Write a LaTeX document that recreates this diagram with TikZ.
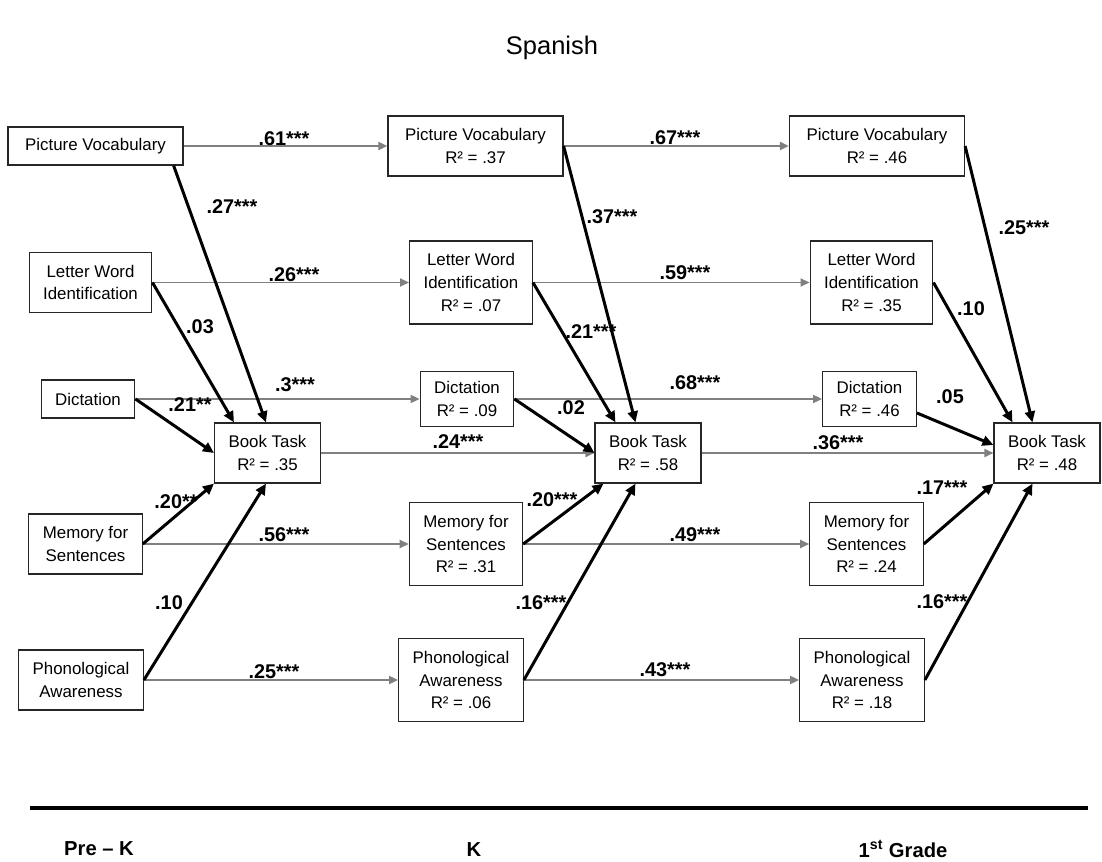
\documentclass[tikz,border=0pt]{standalone}
\usepackage{fontspec}
\setmainfont{Liberation Sans}
\usetikzlibrary{arrows.meta}

\begin{document}
\begin{tikzpicture}[x=2cm,y=2cm,
  var/.style={draw=black!85, line width=0.7pt, align=center, inner xsep=2.8mm, inner ysep=0pt, font=\fontsize{9.6}{13}\selectfont},
  onebox/.style={var, minimum height=7.6mm},
  twobox/.style={var, minimum height=12mm},
  threebox/.style={var, minimum height=16.6mm},
  coef/.style={font=\fontsize{11.3}{13}\selectfont\bfseries, inner sep=0pt},
  grade/.style={font=\fontsize{11.5}{13}\selectfont\bfseries, inner sep=0pt},
  stab/.style={draw=gray, line width=1.1pt, -{Triangle[length=1.8mm,width=1.6mm]}},
  effect/.style={draw=black, line width=1.7pt, -{Triangle[length=2.2mm,width=2mm]}}]
\useasboundingbox (0,0) rectangle (11.02,8.61);

\node[font=\fontsize{14.5}{17}\selectfont] (title) at (5.52,8.13) {Spanish};

% Pre-K
\node[onebox, minimum width=35mm] (pvA) at (0.955,7.15) {Picture Vocabulary};
\node[twobox] (lwiA) at (0.905,5.785) {Letter Word\\Identification};
\node[onebox] (dicA) at (0.88,4.62) {Dictation};
\node[twobox] (btA) at (2.675,4.08) {Book Task\\R² = .35};
\node[twobox] (mfsA) at (0.855,3.17) {Memory for\\Sentences};
\node[twobox] (paA) at (0.81,1.81) {Phonological\\Awareness};

% K
\node[twobox, minimum width=35mm] (pvB) at (4.755,7.15) {Picture Vocabulary\\R² = .37};
\node[threebox] (lwiB) at (4.71,5.785) {Letter Word\\Identification\\R² = .07};
\node[twobox, minimum height=11mm] (dicB) at (4.67,4.62) {Dictation\\R² = .09};
\node[twobox] (btB) at (6.48,4.08) {Book Task\\R² = .58};
\node[threebox] (mfsB) at (4.66,3.17) {Memory for\\Sentences\\R² = .31};
\node[threebox] (paB) at (4.61,1.81) {Phonological\\Awareness\\R² = .06};

% 1st grade
\node[twobox, minimum width=35mm] (pvC) at (8.77,7.15) {Picture Vocabulary\\R² = .46};
\node[threebox] (lwiC) at (8.715,5.785) {Letter Word\\Identification\\R² = .35};
\node[twobox, minimum height=11mm] (dicC) at (8.695,4.62) {Dictation\\R² = .46};
\node[twobox] (btC) at (10.47,4.08) {Book Task\\R² = .48};
\node[threebox] (mfsC) at (8.665,3.17) {Memory for\\Sentences\\R² = .24};
\node[threebox] (paC) at (8.62,1.81) {Phonological\\Awareness\\R² = .18};

% stability paths
\draw[stab] (pvA.east) -- (pvB.west);
\draw[stab] (lwiA.east) -- (lwiB.west);
\draw[stab] (dicA.east) -- (dicB.west);
\draw[stab] (btA.east) -- (btB.west);
\draw[stab] (mfsA.east) -- (mfsB.west);
\draw[stab] (paA.east) -- (paB.west);
\draw[stab] (pvB.east) -- (pvC.west);
\draw[stab] (lwiB.east) -- (lwiC.west);
\draw[stab] (dicB.east) -- (dicC.west);
\draw[stab] (btB.east) -- (btC.west);
\draw[stab] (mfsB.east) -- (mfsC.west);
\draw[stab] (paB.east) -- (paC.west);

% paths to book task
\draw[effect] ([xshift=-2mm]pvA.south east) -- ([xshift=10.4mm]btA.north west);
\draw[effect] (lwiA.east) -- ([xshift=4mm]btA.north west);
\draw[effect] (dicA.east) -- (btA.west);
\draw[effect] (mfsA.east) -- (btA.south west);
\draw[effect] (paA.east) -- ([xshift=10.4mm]btA.south west);

\draw[effect] (pvB.east) -- ([xshift=8.2mm]btB.north west);
\draw[effect] (lwiB.east) -- ([xshift=4.2mm]btB.north west);
\draw[effect] (dicB.east) -- (btB.west);
\draw[effect] (mfsB.east) -- ([xshift=1.8mm]btB.south west);
\draw[effect] (paB.east) -- ([xshift=8.2mm]btB.south west);

\draw[effect] (pvC.east) -- ([xshift=7.8mm]btC.north west);
\draw[effect] (lwiC.east) -- ([xshift=3.8mm]btC.north west);
\draw[effect] ([yshift=-2.8mm]dicC.east) -- ([yshift=1.6mm]btC.west);
\draw[effect] (mfsC.east) -- (btC.south west);
\draw[effect] (paC.east) -- ([xshift=7.8mm]btC.south west);

% coefficients
\node[coef] (c1) at (2.84,7.22) {.61***};
\node[coef] (c2) at (2.32,6.54) {.27***};
\node[coef] (c3) at (2.94,5.86) {.26***};
\node[coef] (c4) at (2.00,5.34) {.03};
\node[coef] (c5) at (2.95,4.76) {.3***};
\node[coef] (c6) at (1.90,4.56) {.21**};
\node[coef] (c7) at (4.58,4.19) {.24***};
\node[coef] (c8) at (1.76,3.59) {.20**};
\node[coef] (c9) at (2.84,3.26) {.56***};
\node[coef] (c10) at (1.69,2.58) {.10};
\node[coef] (c11) at (2.74,1.89) {.25***};

\node[coef] (c12) at (6.75,7.23) {.67***};
\node[coef] (c13) at (6.12,6.44) {.37***};
\node[coef] (c14) at (6.85,5.88) {.59***};
\node[coef] (c15) at (5.91,5.29) {.21***};
\node[coef] (c16) at (6.95,4.78) {.68***};
\node[coef] (c17) at (5.71,4.53) {.02};
\node[coef] (c18) at (8.38,4.18) {.36***};
\node[coef] (c19) at (5.52,3.61) {.20***};
\node[coef] (c20) at (6.95,3.26) {.49***};
\node[coef] (c21) at (5.41,2.58) {.16***};
\node[coef] (c22) at (6.65,1.91) {.43***};

\node[coef] (c23) at (10.24,6.33) {.25***};
\node[coef] (c24) at (9.71,5.52) {.10};
\node[coef] (c25) at (9.50,4.64) {.05};
\node[coef] (c26) at (9.42,3.73) {.17***};
\node[coef] (c27) at (9.42,2.59) {.16***};

% time line
\draw[line width=2.8pt] (0.30,0.53) -- (10.88,0.53);
\node[grade] (preK) at (0.99,0.12) {Pre – K};
\node[grade] (kind) at (4.74,0.11) {K};
\node[grade] (first) at (9.03,0.12) {1\textsuperscript{st} Grade};

\end{tikzpicture}
\end{document}
